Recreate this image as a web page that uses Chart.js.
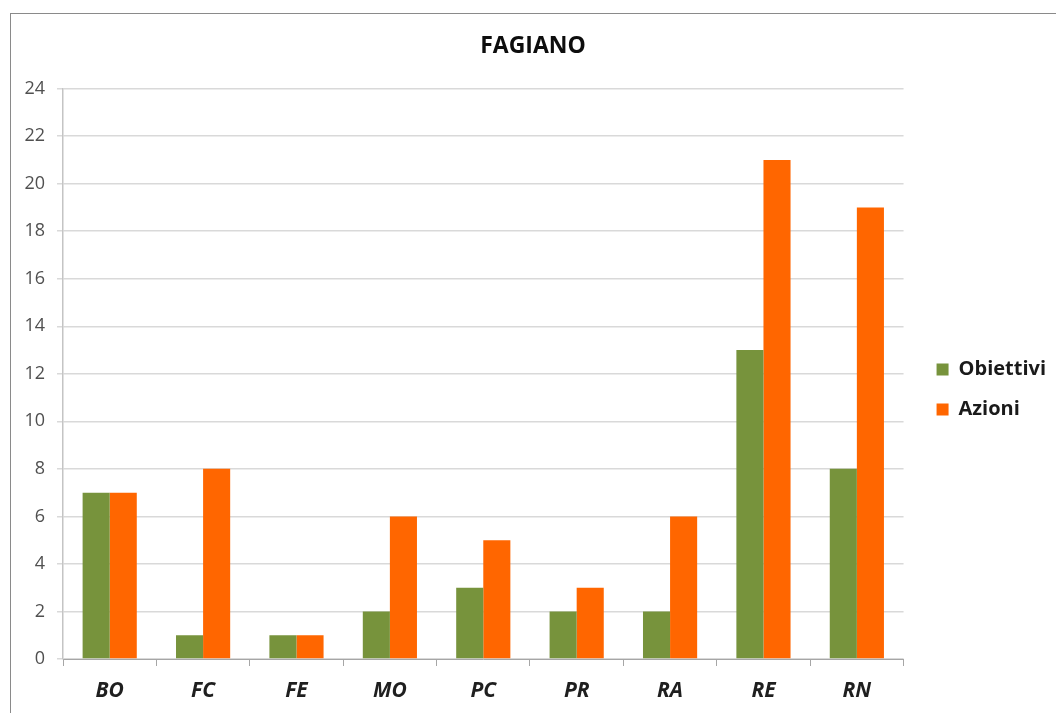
<!DOCTYPE html>
<html>
<head>
<meta charset="utf-8">
<script src="https://cdn.jsdelivr.net/npm/chart.js@4"></script>
<style>
  html, body { margin:0; padding:0; background:#fff; }
  #wrap { position:relative; width:1056px; height:713px; overflow:hidden; }
  #frame { position:absolute; left:10px; top:13px; width:1060px; height:720px; border:1.5px solid #8a8a8a; box-sizing:border-box; }
  canvas { position:absolute; left:0; top:0; }
</style>
</head>
<body>
<div id="wrap">
  <div id="frame"></div>
  <canvas id="c" width="1056" height="713"></canvas>
</div>
<script>
const chartTitle = "FAGIANO";
const categories = ["BO", "FC", "FE", "MO", "PC", "PR", "RA", "RE", "RN"];
const seriesNames = ["Obiettivi", "Azioni"];
const obiettivi = [7, 1, 1, 2, 3, 2, 2, 13, 8];
const azioni = [7, 8, 1, 6, 5, 3, 6, 21, 19];
const yTicks = [0, 2, 4, 6, 8, 10, 12, 14, 16, 18, 20, 22, 24];

const FONT = "'Open Sans', Lato, 'Liberation Sans', sans-serif";

new Chart(document.getElementById('c'), {
  type: 'bar',
  data: {
    labels: categories,
    datasets: [
      { label: seriesNames[0], data: obiettivi, backgroundColor: '#77933C', categoryPercentage: 0.58, barPercentage: 1.0, yAxisID: 'y' },
      { label: seriesNames[1], data: azioni, backgroundColor: '#FF6600', categoryPercentage: 0.58, barPercentage: 1.0, yAxisID: 'y' }
    ]
  },
  options: {
    responsive: false,
    animation: false,
    events: [],
    layout: { padding: { left: 10, top: 20, right: 0, bottom: 0 } },
    plugins: {
      tooltip: { enabled: false },
      title: {
        display: true,
        text: chartTitle,
        color: '#0d0d0d',
        font: { family: FONT, size: 23, weight: 'bold' },
        padding: { top: 13, bottom: 28 }
      },
      legend: {
        position: 'right',
        align: 'center',
        title: { display: true, text: ' ', font: { size: 10 }, padding: { top: 17, bottom: 17 } },
        labels: {
          boxWidth: 12,
          boxHeight: 12,
          padding: 20,
          color: '#1a1a1a',
          font: { family: FONT, size: 20, weight: 'bold' }
        }
      }
    },
    scales: {
      x: {
        grid: { display: true, drawOnChartArea: false, offset: true, color: '#a6a6a6', tickLength: 7, lineWidth: 1 },
        border: { display: true, color: '#a6a6a6', width: 1 },
        ticks: { color: '#1f1f1f', padding: 12, font: { family: FONT, size: 21, weight: 'bold', style: 'italic' } },
        afterFit: s => { s.height = 54; }
      },
      y: {
        min: 0, max: 24,
        afterBuildTicks: s => { s.ticks = yTicks.map(v => ({ value: v })); },
        grid: { color: '#d9d9d9', lineWidth: 1.5, tickLength: 6 },
        border: { display: true, color: '#c4c4c4', width: 1.5 },
        ticks: { color: '#505050', padding: 12, font: { family: FONT, size: 18 } },
        afterFit: s => { s.width = 53; }
      },
      gap: {
        position: 'right',
        display: true,
        grid: { display: false, drawTicks: false },
        border: { display: false },
        ticks: { display: false },
        afterFit: s => { s.width = 13; }
      }
    }
  }
});
</script>
</body>
</html>
